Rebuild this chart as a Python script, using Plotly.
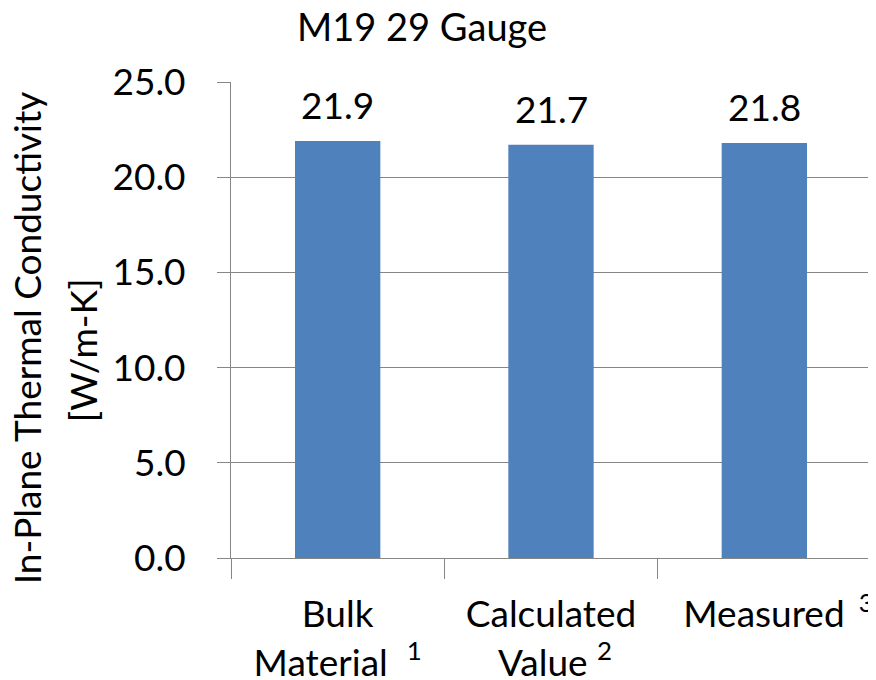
import plotly.graph_objects as go

categories = ["Bulk Material", "Calculated Value", "Measured"]
tick_labels = ["Bulk<br>Material\u00a0\u00a0<sup>1</sup>",
               "Calculated<br>\u00a0Value\u00a0<sup>2</sup>",
               "\u00a0\u00a0\u00a0Measured\u00a0\u2009<sup>3</sup>"]
values = [21.9, 21.7, 21.8]
title_text = "M19 29 Gauge"
y_title_lines = ["In-Plane Thermal Conductivity", "[W/m-K]"]

FONT = "Lato"
GRAY = "#868686"
BLUE = "#4F81BD"

fig = go.Figure()
fig.add_trace(go.Bar(x=categories, y=values, marker=dict(color=BLUE, line=dict(width=0)),
                     hoverinfo="skip"))

for c, v in zip(categories, values):
    fig.add_annotation(x=c, y=v, text=f"{v:.1f}", showarrow=False, yanchor="bottom",
                       yshift=12, font=dict(family=FONT, size=37, color="black"))

# two-line y-axis title, placed as separate rotated lines
for xpos, ypos, line in zip([-0.320, -0.231], [0.462, 0.437], y_title_lines):
    fig.add_annotation(xref="paper", yref="paper", x=xpos, y=ypos, text=line,
                       textangle=-90, showarrow=False, xanchor="center", yanchor="middle",
                       font=dict(family=FONT, size=37, color="black"))

# page body has an 8px margin, so the figure is sized/placed to compensate
fig.update_layout(
    width=868, height=672,
    margin=dict(l=223, r=5, t=74, b=122),
    paper_bgcolor="white", plot_bgcolor="white",
    showlegend=False, bargap=0.6,
    title=dict(text=title_text, x=0.477, xanchor="center", y=0.971, yanchor="middle",
               font=dict(family=FONT, size=38, color="black")),
    font=dict(family=FONT, color="black"),
)
fig.update_yaxes(range=[0, 25], dtick=5, tickformat=".1f", showgrid=True, gridcolor=GRAY,
                 gridwidth=1, showline=True, linecolor=GRAY, linewidth=1, ticks="outside",
                 ticklen=13, tickcolor=GRAY, zeroline=False, ticklabelstandoff=24,
                 automargin=False, tickfont=dict(family=FONT, size=37, color="black"))
fig.update_xaxes(type="category", tickvals=categories, ticktext=tick_labels, showline=True,
                 linecolor=GRAY, linewidth=1, ticks="outside", tickson="boundaries",
                 ticklen=20, tickcolor=GRAY, showgrid=False, ticklabelstandoff=24,
                 tickangle=0, automargin=False,
                 tickfont=dict(family=FONT, size=37, color="black"))

fig.write_html("out.html")
